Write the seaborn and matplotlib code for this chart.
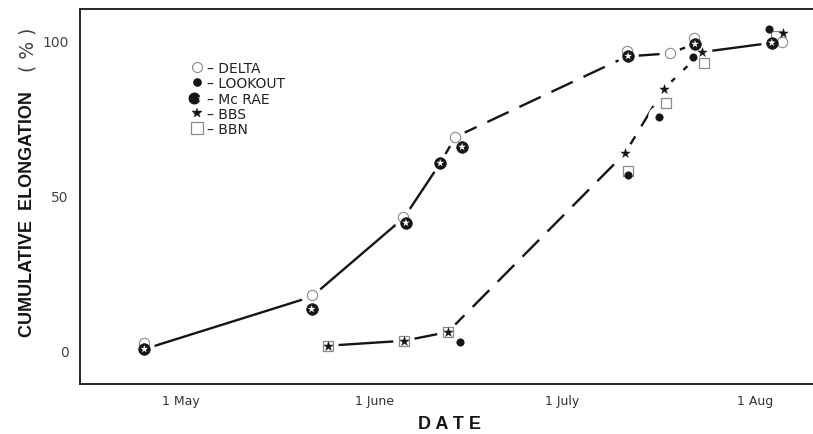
import matplotlib
matplotlib.use("Agg")
import matplotlib.pyplot as plt
import seaborn as sns
from matplotlib.lines import Line2D
from matplotlib.legend_handler import HandlerTuple
from matplotlib.ticker import MultipleLocator

# Day of year (non-leap) and cumulative elongation (%) for each site
delta_day = [115.1, 141.9, 156.5, 164.9, 192.4, 199.3, 203.2, 217.2]
delta_pct = [2.6, 17.9, 43.3, 69.0, 96.9, 96.0, 101.0, 99.8]
mcrae_day = [115.1, 141.9, 157.0, 162.5, 166.0, 192.6, 203.3, 215.6]
mcrae_pct = [0.6, 13.5, 41.3, 60.6, 65.8, 95.1, 99.0, 99.4]
lookout_day = [165.6, 192.6, 197.5, 203.0, 215.2]
lookout_pct = [2.8, 56.8, 75.6, 94.7, 103.9]
bbs_day = [144.5, 156.7, 163.7, 192.1, 198.3, 204.4, 217.4]
bbs_pct = [1.7, 3.3, 6.1, 63.8, 84.5, 96.4, 102.4]
bbn_day = [144.5, 156.7, 163.7, 192.6, 198.6, 204.7, 216.3]
bbn_pct = [1.7, 3.3, 6.1, 58.1, 79.9, 92.9, 101.6]

# Hand-fitted trend curves for the early and the late group
early_day = [115.1, 141.9, 156.7, 162.5, 164.9, 192.4, 199.3, 203.2]
early_pct = [0.6, 17.5, 43.0, 60.6, 69.0, 95.0, 96.0, 99.0]
late_day = [144.5, 156.7, 163.7, 192.1, 198.3, 204.4, 215.6]
late_pct = [1.7, 3.3, 6.1, 63.8, 84.5, 96.4, 99.4]

# Which stretches of each curve are solid / dashed (index ranges)
early_parts = [(0, 4, "solid"), (4, 5, "dashed"), (5, 7, "solid")]
late_parts = [(0, 2, "solid"), (2, 5, "dashed"), (5, 6, "solid")]

month_day = [121, 152, 182, 213]
month_label = ["1 May", "1 June", "1 July", "1 Aug"]
y_major = [0, 50, 100]

sns.set_style("white")
plt.rcParams["font.family"] = ["DejaVu Sans"]

INK = "#151515"
GREY = "#8a8a8a"

fig = plt.figure(figsize=(8.13, 4.35), dpi=100)
ax = fig.add_axes([80 / 813, 50 / 435, 733 / 813, 375 / 435])


def draw_curve(days, pcts, parts):
    for i0, i1, style in parts:
        ls = "-" if style == "solid" else (0, (10, 5))
        sns.lineplot(x=days[i0:i1 + 1], y=pcts[i0:i1 + 1], sort=False,
                     color=INK, linewidth=1.7, linestyle=ls, ax=ax,
                     zorder=2, legend=False)


draw_curve(early_day, early_pct, early_parts)
draw_curve(late_day, late_pct, late_parts)

# white halos that open small gaps in the curves around each symbol
halo_days = delta_day + mcrae_day + lookout_day + bbs_day + bbn_day
halo_pcts = delta_pct + mcrae_pct + lookout_pct + bbs_pct + bbn_pct
sns.scatterplot(x=halo_days, y=halo_pcts, marker="o", s=230, color="white",
                edgecolor="none", linewidth=0, ax=ax, zorder=3, legend=False)

# BBN open squares
sns.scatterplot(x=bbn_day, y=bbn_pct, marker="s", s=62, color="white",
                edgecolor=GREY, linewidth=0.9, ax=ax, zorder=4, legend=False)
# DELTA open circles
sns.scatterplot(x=delta_day, y=delta_pct, marker="o", s=55, color="white",
                edgecolor=GREY, linewidth=0.8, ax=ax, zorder=5, legend=False)
# McRAE heavy rings with a star-shaped centre
sns.scatterplot(x=mcrae_day, y=mcrae_pct, marker="o", s=70, color=INK,
                edgecolor=INK, linewidth=0.5, ax=ax, zorder=6, legend=False)
sns.scatterplot(x=mcrae_day, y=mcrae_pct, marker="*", s=34, color="white",
                edgecolor="none", linewidth=0, ax=ax, zorder=7, legend=False)
# LOOKOUT black dots
sns.scatterplot(x=lookout_day, y=lookout_pct, marker="o", s=28, color=INK,
                edgecolor=INK, linewidth=0.5, ax=ax, zorder=8, legend=False)
# BBS stars
sns.scatterplot(x=bbs_day, y=bbs_pct, marker="*", s=50, color=INK,
                edgecolor=INK, linewidth=0.3, ax=ax, zorder=9, legend=False)

# axes frame
ax.set_xlim(104.8, 222.2)
ax.set_ylim(-10.65, 110.3)
for side in ["left", "bottom", "top"]:
    ax.spines[side].set_color(INK)
    ax.spines[side].set_linewidth(1.3)
ax.spines["right"].set_visible(False)

ax.set_xticks(month_day)
ax.set_xticklabels(month_label)
ax.set_yticks(y_major)
ax.set_yticklabels([str(v) for v in y_major])
ax.yaxis.set_minor_locator(MultipleLocator(10))
ax.tick_params(axis="x", which="major", direction="in", length=4, width=1.2,
               color=INK, pad=7, labelsize=9, labelcolor="#333333",
               top=False)
ax.tick_params(axis="y", which="major", direction="in", length=10, width=1.4,
               color=INK, pad=8, labelsize=10, labelcolor="#444444",
               right=False)
ax.tick_params(axis="y", which="minor", direction="in", length=5, width=1.2,
               color=INK, right=False)
ax.set_xlabel("")
ax.set_ylabel("")

fig.text(0.034, 0.508, "CUMULATIVE  ELONGATION", rotation=90, ha="center",
         va="center", fontsize=13, fontweight="bold", color=INK,
         family=["Liberation Sans", "DejaVu Sans"])
fig.text(0.034, 0.885, "( % )", rotation=90, ha="center", va="center",
         fontsize=13.5, color="#444444", family=["DejaVu Sans"])
fig.text(0.553, 0.023, "D A T E", ha="center", va="center", fontsize=13,
         fontweight="bold", color=INK, family=["Liberation Sans", "DejaVu Sans"])

# legend
h_delta = Line2D([], [], marker="o", ls="", ms=7.2, mfc="white", mec=GREY, mew=0.8)
h_look = Line2D([], [], marker="o", ls="", ms=5.2, mfc=INK, mec=INK)
h_mc_a = Line2D([], [], marker="o", ls="", ms=7.6, mfc=INK, mec=INK)
h_mc_b = Line2D([], [], marker="*", ls="", ms=5.2, mfc="white", mec="none")
h_bbs = Line2D([], [], marker="*", ls="", ms=7, mfc=INK, mec=INK, mew=0.3)
h_bbn = Line2D([], [], marker="s", ls="", ms=8.2, mfc="white", mec=GREY, mew=0.9)
leg = ax.legend([h_delta, h_look, (h_mc_a, h_mc_b), h_bbs, h_bbn],
                ["– DELTA", "– LOOKOUT", "– Mc RAE", "– BBS", "– BBN"],
                handler_map={tuple: HandlerTuple(ndivide=None, pad=0)},
                loc="upper left", bbox_to_anchor=(0.151, 0.862),
                borderaxespad=0, borderpad=0, frameon=False,
                handlelength=0.9, handletextpad=0.3, labelspacing=0.1,
                fontsize=10)
for t in leg.get_texts():
    t.set_color("#222222")

fig.savefig("out.png", dpi=100, facecolor="white")
